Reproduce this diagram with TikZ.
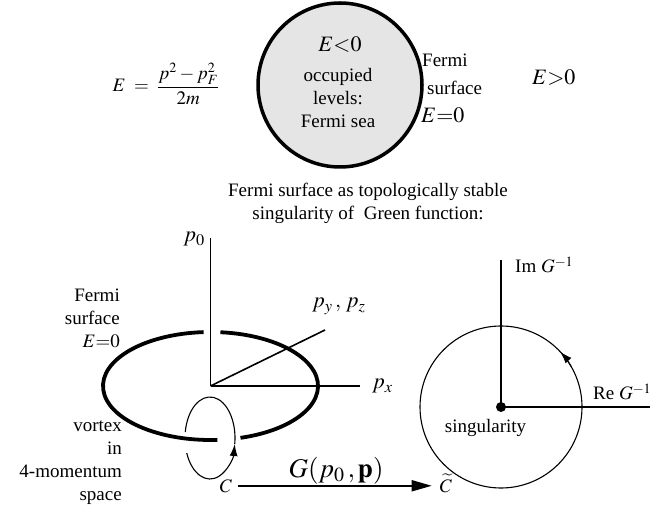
\documentclass[tikz,border=0pt]{standalone}
\usepackage{amsmath}
\usepackage{mathptmx}
\usepackage{fontspec}
\setmainfont{Liberation Serif}
\usetikzlibrary{arrows.meta, positioning}

\begin{document}
\begin{tikzpicture}[x=1pt, y=1pt,
    lbl/.style={font=\fontsize{19}{23}\selectfont, inner sep=0pt},
    mlbl/.style={font=\fontsize{22}{26}\selectfont, inner sep=0pt},
    big/.style={font=\fontsize{27}{30}\selectfont, inner sep=0pt},
    axisline/.style={line width=1.6pt},
    fsurf/.style={line width=3.8pt},
    thinline/.style={line width=1.1pt},
    smallarr/.style={thinline, -{Latex[length=12pt, width=8pt]}},
    bigarr/.style={line width=1.8pt, -{Triangle[length=20pt, width=11pt]}},
]
\useasboundingbox (0,0) rectangle (658,514);

% --- Fermi sea ---
\node[lbl] (disp) at (166,430) {$E\;=\;\dfrac{p^2-p_F^2}{2m}$};
\node[circle, draw, line width=3.5pt, fill=black!10, minimum size=164pt] (sea) at (340,429) {};
\node[mlbl, anchor=base] (neg) at (340,462) {$E{<}0$};
\node[lbl, align=center] (occ) at (338,415.5) {occupied\\levels:\\Fermi sea};
\node[lbl, anchor=base west] (fermi) at (422,447) {Fermi};
\node[lbl, anchor=base west] (surf) at (427,419) {surface};
\node[mlbl, anchor=base west] (zero) at (421,391) {$E{=}0$};
\node[mlbl, anchor=base west] (pos) at (532,429) {$E{>}0$};

% --- Green function ---
\node[lbl, align=center] (title) at (368,311) {Fermi surface as topologically stable\\singularity of\ \ Green function:};

% momentum axes
\coordinate (o) at (210.5,128);
\coordinate (p0end) at (210.5,276);
\coordinate (pxend) at (360,128);
\coordinate (pyend) at (325,184);
\draw[axisline] (o) -- (p0end);
\draw[axisline] (o) -- (pxend);
\draw[axisline] (o) -- (pyend);
\node[mlbl, anchor=base east] (p0) at (205,272) {$p_0$};
\node[mlbl, anchor=base west] (px) at (372,125) {$p_x$};
\node[mlbl, anchor=base west] (pyz) at (312,206) {$p_y\,,\,p_z$};

% Fermi surface, broken where the p0 axis and the vortex loop pass in front
\draw[fsurf] ([shift={(93.7:107.5 and 54)}]o) arc[start angle=93.7, end angle=273.7, x radius=107.5, y radius=54];
\draw[fsurf] ([shift={(286.2:107.5 and 54)}]o) arc[start angle=286.2, end angle=444.7, x radius=107.5, y radius=54];
\node[lbl, align=right, anchor=north east] (fsl) at (120,225) {Fermi\\surface\\$E{=}0$};

% vortex loop C
\coordinate (lp) at (210,76);
\draw[smallarr] ([shift={(201.5:25 and 41)}]lp) arc[start angle=201.5, end angle=351.6, x radius=25, y radius=41];
\draw[thinline] ([shift={(351.6:25 and 41)}]lp) arc[start angle=351.6, end angle=531.6, x radius=25, y radius=41];
\node[lbl, align=right, anchor=north east] (vtx) at (122,93) {vortex\\in\\4-momentum\\space};

\node[lbl, anchor=base] (C) at (226,22) {$C$};
\node[lbl, anchor=base] (Ct) at (446,22) {$\widetilde{C}$};
\draw[bigarr, shorten <=6pt, shorten >=8pt] (C.east) -- node[big, above=1pt] {$G(p_0\,,\mathbf{p})$} (C.east -| Ct.west);

% --- inverse Green function plane ---
\node[circle, fill, inner sep=0pt, minimum size=10pt] (sg) at (501,107) {};
\coordinate (imend) at (501,254);
\coordinate (reend) at (650,107);
\draw[axisline] (sg.center) -- (imend);
\draw[axisline] (sg.center) -- (reend);
\draw[thinline] (sg.center) circle[radius=81];
\draw[smallarr] ([shift={(30:81)}]sg.center) arc[start angle=30, end angle=43, radius=81];
\node[lbl, anchor=base west] (im) at (515,241) {Im $G^{-1}$};
\node[lbl, anchor=base west] (re) at (593,114) {Re $G^{-1}$};
\node[lbl, anchor=base] (sgl) at (485.5,82) {singularity};

\end{tikzpicture}
\end{document}
